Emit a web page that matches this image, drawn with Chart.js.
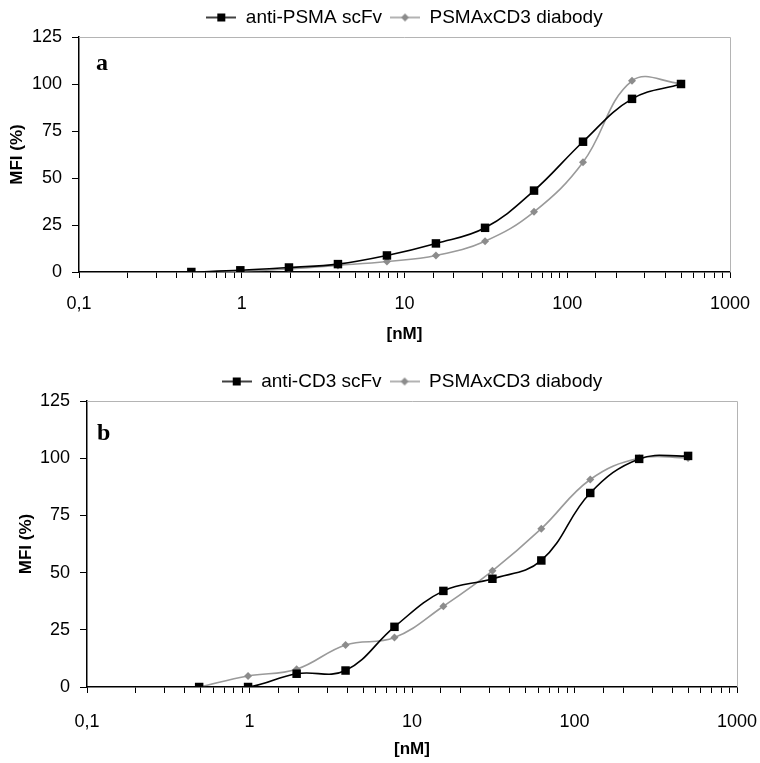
<!DOCTYPE html>
<html>
<head>
<meta charset="utf-8">
<script src="https://cdn.jsdelivr.net/npm/chart.js@4/dist/chart.umd.min.js"></script>
<style>
  body { margin: 0; background: #fff; }
  canvas { position: absolute; left: 0; }
  #chartA { top: 0; }
  #chartB { top: 355px; }
</style>
</head>
<body>
<canvas id="chartA" width="760" height="355"></canvas>
<canvas id="chartB" width="760" height="408"></canvas>
<script>
// concentration series (nM), same for both panels
const conc = [0.49, 0.98, 1.95, 3.9, 7.8, 15.6, 31.25, 62.5, 125, 250, 500];

// panel a
const psmaScfv = [0, 0.9, 2.4, 4.2, 8.8, 15.2, 23.5, 43.3, 69.3, 92.1, 100];
const diabodyA = [0, 0.5, 1.6, 3.5, 5.6, 8.8, 16.4, 32, 58.4, 101.7, 100.3];

// panel b
const cd3Scfv = [0, 0, 5.8, 7.2, 26.3, 42, 47.3, 55.3, 84.8, 99.7, 101];
const diabodyB = [0, 4.8, 7.8, 18.4, 21.6, 35.3, 50.8, 69.2, 90.7, 100, 100.1];

const yTicks = [0, 25, 50, 75, 100, 125];
const xTickLabels = { 0.1: "0,1", 1: "1", 10: "10", 100: "100", 1000: "1000" };

const FONT = "'Liberation Sans', Arial, sans-serif";

function legendIcon(kind) {
  const c = document.createElement("canvas");
  c.width = 30; c.height = 12;
  const g = c.getContext("2d");
  g.strokeStyle = kind === "sq" ? "#000" : "#9a9a9a";
  g.lineWidth = 1.5;
  g.beginPath(); g.moveTo(0, 6); g.lineTo(30, 6); g.stroke();
  if (kind === "sq") {
    g.fillStyle = "#000";
    g.fillRect(11, 2, 8, 8);
  } else {
    g.fillStyle = "#8c8c8c";
    g.beginPath(); g.moveTo(15, 2); g.lineTo(19, 6); g.lineTo(15, 10); g.lineTo(11, 6); g.closePath(); g.fill();
  }
  return c;
}

const frame = {
  id: "frame",
  beforeDatasetsDraw(chart, args, opts) {
    const a = chart.chartArea, ctx = chart.ctx;
    ctx.save();
    ctx.strokeStyle = "#b4b4b4";
    ctx.lineWidth = 1;
    ctx.beginPath();
    ctx.moveTo(a.left, a.top + 0.5);
    ctx.lineTo(a.right + 0.5, a.top + 0.5);
    ctx.lineTo(a.right + 0.5, a.bottom);
    ctx.stroke();
    ctx.fillStyle = "#000";
    ctx.font = "bold 24px 'Liberation Serif', 'Times New Roman', serif";
    ctx.fillText(opts.letter, a.left + opts.dx, a.top + opts.dy);
    ctx.restore();
  }
};

function makeChart(id, names, s1, s2, letter, lay) {
  return new Chart(document.getElementById(id), {
    type: "line",
    data: {
      labels: conc,
      datasets: [
        {
          label: names[0],
          data: conc.map((x, i) => ({ x: x, y: s1[i] })),
          borderColor: "#000",
          backgroundColor: "#000",
          borderWidth: 1.6,
          pointStyle: "rect",
          pointRadius: 6,
          pointBorderWidth: 0,
          tension: 0.4,
        },
        {
          label: names[1],
          data: conc.map((x, i) => ({ x: x, y: s2[i] })),
          borderColor: "#9a9a9a",
          backgroundColor: "#8c8c8c",
          borderWidth: 1.6,
          pointStyle: "rectRot",
          pointRadius: 4,
          pointBorderWidth: 0,
          tension: 0.4,
        },
      ],
    },
    options: {
      responsive: false,
      animation: false,
      layout: { padding: lay.pad },
      scales: {
        x: {
          type: "logarithmic",
          min: 0.1,
          max: 1000,
          afterFit: (s) => { s.height = lay.xHeight; s.paddingLeft = 0; s.paddingRight = 0; },
          border: { color: "#000", width: 1.5 },
          grid: { drawOnChartArea: false, color: "#000", tickLength: 6, lineWidth: 1 },
          ticks: {
            autoSkip: false,
            maxRotation: 0,
            color: "#000",
            padding: lay.xTickPad,
            font: { family: FONT, size: 18 },
            callback: (v) => {
              const l = Math.log10(v);
              if (Math.abs(l - Math.round(l)) > 1e-6) return "";
              return xTickLabels[Math.pow(10, Math.round(l))];
            },
          },
          title: {
            display: true,
            text: "[nM]",
            color: "#000",
            font: { family: FONT, size: 17, weight: "bold" },
            padding: { top: 4, bottom: 0 },
          },
        },
        y: {
          min: 0,
          max: 125,
          afterFit: (s) => { s.width = lay.yWidth; },
          afterBuildTicks: (s) => { s.ticks = yTicks.map((v) => ({ value: v })); },
          border: { color: "#000", width: 1.5 },
          grid: { drawOnChartArea: false, color: "#000", tickLength: 7, lineWidth: 1 },
          ticks: { color: "#000", padding: 10, font: { family: FONT, size: 18 } },
          title: {
            display: true,
            text: "MFI (%)",
            color: "#000",
            font: { family: FONT, size: 17, weight: "bold" },
            padding: { top: 0, bottom: 0 },
          },
        },
      },
      plugins: {
        frame: { letter: letter, dx: lay.dx, dy: lay.dy },
        tooltip: { enabled: false },
        legend: {
          display: true,
          fullSize: false,
          labels: {
            color: "#000",
            font: { family: FONT, size: 19 },
            usePointStyle: true,
            pointStyleWidth: 30,
            padding: 8,
            generateLabels: (chart) => chart.data.datasets.map((d, i) => ({
              text: d.label,
              pointStyle: legendIcon(i === 0 ? "sq" : "dia"),
              datasetIndex: i,
              fontColor: "#000",
              lineWidth: 0,
            })),
          },
        },
      },
    },
    plugins: [frame],
  });
}

makeChart("chartA", ["anti-PSMA scFv", "PSMAxCD3 diabody"], psmaScfv, diabodyA, "a", {
  yWidth: 72, xHeight: 73, xTickPad: 15, dx: 17, dy: 27,
  pad: { left: 7, right: 30, top: 0, bottom: 10 },
});
makeChart("chartB", ["anti-CD3 scFv", "PSMAxCD3 diabody"], cd3Scfv, diabodyB, "b", {
  yWidth: 71, xHeight: 73, xTickPad: 18, dx: 10, dy: 33,
  pad: { left: 16, right: 23, top: 9, bottom: 3 },
});
</script>
</body>
</html>
